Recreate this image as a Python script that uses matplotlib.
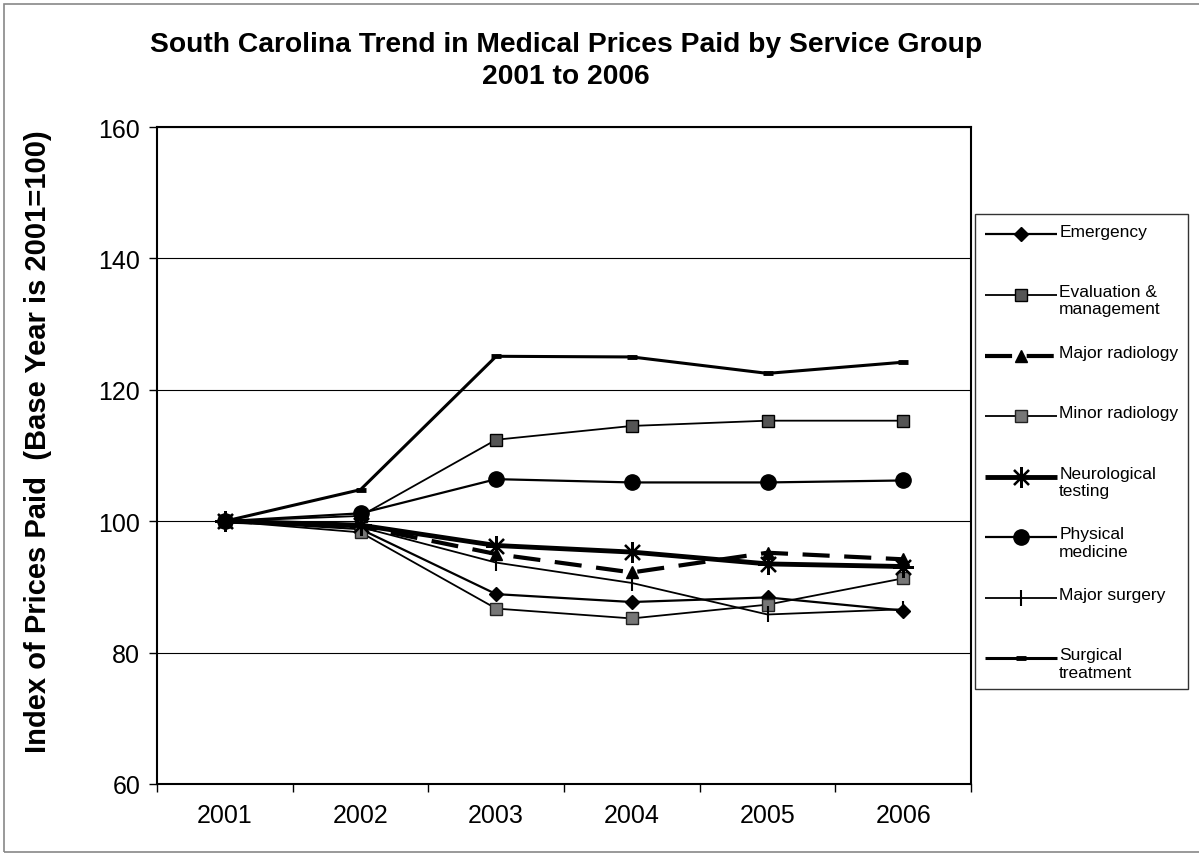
import numpy as np
import matplotlib
matplotlib.use("Agg")
import matplotlib.pyplot as plt
from matplotlib.legend_handler import HandlerLine2D
from matplotlib.patches import Rectangle

plt.rcParams['font.family'] = ['Liberation Sans', 'DejaVu Sans']

years = ['2001', '2002', '2003', '2004', '2005', '2006']

emergency = [100, 98.8, 88.9, 87.7, 88.4, 86.4]
evaluation = [100, 100.8, 112.4, 114.5, 115.3, 115.3]
major_radiology = [100, 99.2, 95.0, 92.2, 95.2, 94.2]
minor_radiology = [100, 98.3, 86.7, 85.2, 87.3, 91.3]
neurological = [100, 99.4, 96.3, 95.3, 93.5, 93.1]
physical = [100, 101.2, 106.4, 105.9, 105.9, 106.2]
major_surgery = [100, 99.1, 93.7, 90.6, 85.8, 86.6]
surgical = [100, 104.8, 125.1, 125.0, 122.5, 124.2]

labels = ['Emergency\n ', 'Evaluation &\nmanagement', 'Major radiology\n ',
          'Minor radiology\n ', 'Neurological\ntesting', 'Physical\nmedicine',
          'Major surgery\n ', 'Surgical\ntreatment']


class FirstLineHandler(HandlerLine2D):
    # put the legend sample next to the first text line, as Excel does
    def create_artists(self, legend, orig_handle, xdescent, ydescent,
                       width, height, fontsize, trans):
        shift = 0.6 * fontsize
        return super().create_artists(legend, orig_handle, xdescent,
                                      ydescent - shift, width, height,
                                      fontsize, trans)


fig = plt.figure(figsize=(11.99, 8.54), dpi=100)
ax = fig.add_axes([157 / 1199, 69 / 854, 814 / 1199, 657 / 854])

x = np.arange(len(years))
series = [
    (emergency, dict(lw=1.6, color='black', marker='D', ms=7, mfc='black', mec='black')),
    (evaluation, dict(lw=1.3, color='black', marker='s', ms=9, mfc='#555555', mec='black')),
    (major_radiology, dict(lw=3, color='black', ls=(0, (6.5, 3.5)), marker='^', ms=9, mfc='black', mec='black')),
    (minor_radiology, dict(lw=1.3, color='black', marker='s', ms=9, mfc='#777777', mec='#222222')),
    (neurological, dict(lw=3.5, color='black', marker=(8, 2, 0), ms=15, mew=1.6, mec='black')),
    (physical, dict(lw=1.6, color='black', marker='o', ms=11, mfc='black', mec='black')),
    (major_surgery, dict(lw=1.3, color='black', marker='|', ms=12, mew=1.5, mec='black')),
    (surgical, dict(lw=2.2, color='black', marker='_', ms=7, mew=3.5, mec='black')),
]
lines = []
for vals, style in series:
    ln, = ax.plot(x, vals, solid_capstyle='butt', **style)
    lines.append(ln)

ax.set_xlim(-0.5, len(years) - 0.5)
ax.set_ylim(60, 160)
ax.set_yticks([60, 80, 100, 120, 140, 160])
ax.set_xticks(x)
ax.set_xticklabels(years)
ax.set_xticks(np.arange(len(years) + 1) - 0.5, minor=True)
ax.tick_params(axis='x', which='major', length=0, pad=14, labelsize=18)
ax.tick_params(axis='x', which='minor', length=6, width=1, direction='out')
ax.tick_params(axis='y', length=6, width=1, direction='out', pad=6, labelsize=18)
ax.yaxis.grid(True, color='black', lw=0.8)
ax.set_axisbelow(True)
for s in ax.spines.values():
    s.set_linewidth(1.5)

fig.text(566 / 1199, 1 - 61 / 854,
         'South Carolina Trend in Medical Prices Paid by Service Group\n2001 to 2006',
         ha='center', va='center', fontsize=20.3, fontweight='bold', linespacing=1.3)
fig.text(38 / 1199, 1 - 442 / 854, 'Index of Prices Paid  (Base Year is 2001=100)',
         rotation=90, ha='center', va='center', fontsize=21, fontweight='bold')

leg = fig.legend(lines, labels, loc='upper left',
                 bbox_to_anchor=(975 / 1199, 1 - 215 / 854),
                 fontsize=12.5, frameon=True, fancybox=False, edgecolor='black',
                 handlelength=4.2, handletextpad=0.1, labelspacing=1.62,
                 borderpad=0.55, borderaxespad=0,
                 handler_map={ln: FirstLineHandler() for ln in lines})
leg.get_frame().set_linewidth(1.0)

fig.patches.append(Rectangle((4 / 1199, 1 / 854), 1.2, 1 - 6 / 854,
                             transform=fig.transFigure, fill=False,
                             edgecolor='#888888', lw=1.2))

fig.savefig('out.png', dpi=100)
